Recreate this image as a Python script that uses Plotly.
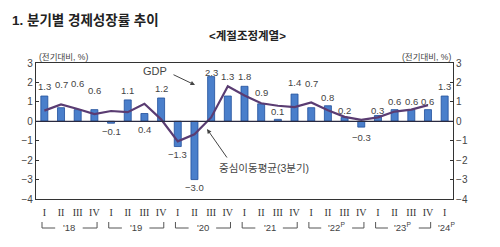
import plotly.graph_objects as go

# ---------------- data ----------------
quarters = ["2018Q1", "2018Q2", "2018Q3", "2018Q4",
            "2019Q1", "2019Q2", "2019Q3", "2019Q4",
            "2020Q1", "2020Q2", "2020Q3", "2020Q4",
            "2021Q1", "2021Q2", "2021Q3", "2021Q4",
            "2022Q1", "2022Q2", "2022Q3", "2022Q4",
            "2023Q1", "2023Q2", "2023Q3", "2023Q4",
            "2024Q1"]
gdp_growth = [1.3, 0.7, 0.6, 0.6, -0.1, 1.1, 0.4, 1.2, -1.3, -3.0, 2.3, 1.3,
              1.8, 0.9, 0.1, 1.4, 0.7, 0.8, 0.2, -0.3, 0.3, 0.6, 0.6, 0.6, 1.3]
moving_avg_3q = [0.55, 0.87, 0.63, 0.37, 0.53, 0.47, 0.90, 0.10, -1.03, -0.67,
                 0.20, 1.80, 1.33, 0.93, 0.80, 0.73, 0.97, 0.57, 0.23, 0.07,
                 0.20, 0.50, 0.60, 0.83]
quarter_ticks = ["I", "II", "III", "IV"] * 6 + ["I"]
year_labels = ["'18", "'19", "'20", "'21", "'22<sup>P</sup>", "'23<sup>P</sup>", "'24<sup>P</sup>"]
y_ticks = [3, 2, 1, 0, -1, -2, -3, -4]

# layout: vertical placement of the value labels (axis units)
label_y = [1.77, 1.87, 1.97, 1.56, -0.50, 1.56, -0.40, 1.71, -1.73, -3.43, 2.49, 2.28,
           2.28, 1.46, 0.48, 2.02, 1.97, 1.25, 0.58, -0.81, 0.58, 1.04, 1.04, 1.04, 1.77]

# ---------------- figure ----------------
idx = list(range(len(quarters)))
L, R, T, B = 36, 47, 63, 48
W, H = 500, 247
PW, PH = W - L - R, H - T - B

def px(x):  # pixel x -> paper
    return (x - L) / PW

def py(y):  # pixel y -> paper
    return (H - B - y) / PH

KFONT = "Liberation Sans, Noto Sans CJK KR, sans-serif"
TXT = "#444444"
AX = "#333333"

fig = go.Figure()
fig.add_trace(go.Bar(
    x=idx, y=gdp_growth, width=0.42,
    marker=dict(color="#4A7FCB", line=dict(color="#1F4E9A", width=0.8)),
    hoverinfo="skip", showlegend=False))
fig.add_trace(go.Scatter(
    x=idx[:len(moving_avg_3q)], y=moving_avg_3q, mode="lines", yaxis="y2",
    line=dict(color="#5A3C72", width=2.2), hoverinfo="skip", showlegend=False))

ann = []
for i, (v, ly) in enumerate(zip(gdp_growth, label_y)):
    t = f"{abs(v):.1f}"
    if v < 0:
        t = "\u2212" + t
    ann.append(dict(x=i, y=ly, xref="x", yref="y", text=t, showarrow=False,
                    xanchor="center", yanchor="middle",
                    font=dict(family=KFONT, size=9.5, color=TXT)))

def pann(x, y, text, size, color=TXT, xanchor="center"):
    return dict(x=px(x), y=py(y), xref="paper", yref="paper", xanchor=xanchor, yanchor="middle",
                text=text, showarrow=False, font=dict(family=KFONT, size=size, color=color))

# titles and unit labels
ann.append(pann(10, 20, "<b>1. 분기별 경제성장률 추이</b>", 13.5, "#222222", "left"))
ann.append(pann(248, 35, "<b>&lt;계절조정계열&gt;</b>", 11.5, "#222222"))
ann.append(pann(37, 57, "(전기대비, %)", 8.5, TXT, "left"))
ann.append(pann(453, 57, "(전기대비, %)", 8.5, TXT, "right"))

# callouts
ann.append(pann(155, 71, "GDP", 11))
ann.append(dict(x=px(195), y=py(85), xref="paper", yref="paper", ax=-23, ay=-11, text="",
                showarrow=True, arrowhead=2, arrowsize=0.9, arrowwidth=1, arrowcolor=TXT))
ann.append(pann(264, 168, "중심이동평균(3분기)", 10.5))
ann.append(dict(x=px(207), y=py(129), xref="paper", yref="paper", ax=21, ay=30, text="",
                showarrow=True, arrowhead=2, arrowsize=0.9, arrowwidth=1, arrowcolor=TXT))

# year labels with brackets
shapes = []
yb_top, yb_bot = py(222), py(228)
for k, lab in enumerate(year_labels):
    q1 = 4 * k
    if k < len(year_labels) - 1:
        mid = q1 + 1.5
        ann.append(dict(x=mid, y=py(227), xref="x", yref="paper", text=lab, showarrow=False,
                        xanchor="center", yanchor="middle",
                        font=dict(family=KFONT, size=9.5, color=TXT)))
        lx0, lx1 = q1 - 0.14, q1 + 0.65
        rx0, rx1 = q1 + 2.3, q1 + 3.16
        if "sup" in lab:
            lx1, rx0 = q1 + 0.6, q1 + 2.45
        ln = dict(color="#555555", width=1)
        shapes += [
            dict(type="line", xref="x", yref="paper", x0=lx0, x1=lx0, y0=yb_top, y1=yb_bot, line=ln),
            dict(type="line", xref="x", yref="paper", x0=lx0, x1=lx1, y0=yb_bot, y1=yb_bot, line=ln),
            dict(type="line", xref="x", yref="paper", x0=rx0, x1=rx1, y0=yb_bot, y1=yb_bot, line=ln),
            dict(type="line", xref="x", yref="paper", x0=rx1, x1=rx1, y0=yb_top, y1=yb_bot, line=ln),
        ]
    else:
        ann.append(dict(x=q1 + 0.1, y=py(227), xref="x", yref="paper", text=lab, showarrow=False,
                        xanchor="center", yanchor="middle",
                        font=dict(family=KFONT, size=9.5, color=TXT)))

yax = dict(range=[-4, 3], tickvals=y_ticks, showgrid=False, showline=True, linecolor=AX,
           linewidth=1.2, ticks="inside", ticklen=3, tickcolor=AX,
           tickfont=dict(family=KFONT, size=10, color=TXT), zeroline=False)

fig.update_layout(
    width=W, height=H, margin=dict(l=L, r=R, t=T, b=B),
    paper_bgcolor="white", plot_bgcolor="white", showlegend=False,
    xaxis=dict(range=[-0.5, len(quarters) - 0.5], tickvals=idx, ticktext=quarter_ticks,
               showgrid=False, showline=True, mirror=True, linecolor=AX, linewidth=1.2,
               ticks="", ticklabelstandoff=4, zeroline=False,
               tickfont=dict(family="Liberation Serif, serif", size=10, color="#333333")),
    yaxis=dict(**yax, side="left"),
    yaxis2=dict(**yax, side="right", overlaying="y"),
    annotations=ann, shapes=shapes,
)
fig.add_hline(y=0, line=dict(color="#2a2a40", width=1.2))

fig.write_html("out.html")
